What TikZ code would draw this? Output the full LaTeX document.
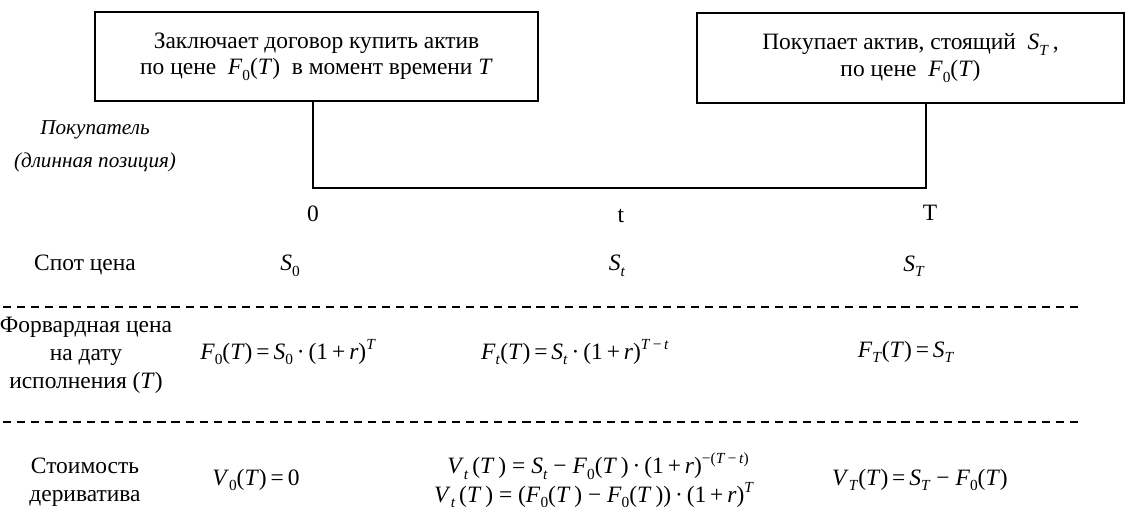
\documentclass[tikz,border=0pt]{standalone}
\usepackage{fontspec}
\setmainfont{Liberation Serif}
\newcommand{\mv}[1]{\textit{#1}}
\newcommand{\lo}[1]{\raisebox{-0.5ex}{\fontsize{8}{8}\selectfont #1}}
\newcommand{\hi}[1]{\raisebox{0.95ex}{\fontsize{8}{8}\selectfont #1}}
\newcommand{\eqs}{\,=\,}
\begin{document}
\begin{tikzpicture}[x=0.52pt,y=-0.52pt,
  every node/.style={font=\fontsize{12.2}{13}\selectfont, inner sep=0pt, align=center},
  box/.style={draw, line width=0.6pt},
  conn/.style={line width=0.8pt},
  sep/.style={dash pattern=on 4.2pt off 3.1pt, line width=0.7pt},
  lab/.style={}]
\useasboundingbox (0,0) rectangle (1125,509);
% boxes
\node[box, minimum width=230.4pt, minimum height=46.3pt] (b1) at (316.5,56.5)
  {Заключает договор купить актив\\[1pt] по цене \ \mv{F}\lo{0}(\mv{T}) \ в момент времени \mv{T}};
\node[box, minimum width=222pt, minimum height=46.8pt] (b2) at (910.5,58)
  {Покупает актив, стоящий \ \mv{S}\lo{\mv{T}}\,,\\[1pt] по цене \ \mv{F}\lo{0}(\mv{T})};
% connector
\coordinate (k0) at (313,188);
\coordinate (kT) at (926,188);
\draw[conn] (b1.south -| k0) -- (k0) -- (kT) -- (b2.south -| kT);
% buyer label
\node[lab, font=\fontsize{11}{13}\selectfont\itshape] (buyer) at (95,146) {Покупатель\\[4pt](длинная позиция)};
% time labels
\node (t0) at (313,214) {0};
\node (tt) at (621,216) {t};
\node (tT) at (930,213) {T};
% spot row
\node (spot) at (85,265) {Спот цена};
\node (s0) at (290,266) {\mv{S}\lo{0}};
\node (st) at (617,266) {\mv{S}\lo{\mv{t}}};
\node (sT) at (914,266) {\mv{S}\lo{\mv{T}}};
\coordinate (d1a) at (3,307);
\coordinate (d1b) at (1078,307);
\draw[sep] (d1a) -- (d1b);
% forward row
\node (fwd) at (86,355) {Форвардная цена\\[1.5pt]на дату\\[1.5pt]исполнения (\mv{T})};
\node (f0) at (288,352) {\mv{F}\lo{0}(\mv{T})\eqs\mv{S}\lo{0}\,·\,(1\,+\,\mv{r})\hi{\mv{T}}};
\node (ft) at (575,352) {\mv{F}\lo{\mv{t}}(\mv{T})\eqs\mv{S}\lo{\mv{t}}\,·\,(1\,+\,\mv{r})\hi{\mv{T}\,−\,\mv{t}}};
\node (fT) at (906,352) {\mv{F}\lo{\mv{T}}(\mv{T})\eqs\mv{S}\lo{\mv{T}}};
\coordinate (d2a) at (3,422);
\coordinate (d2b) at (1078,422);
\draw[sep] (d2a) -- (d2b);
% value row
\node (val) at (85,482) {Стоимость\\[1.5pt]дериватива};
\node (v0) at (256,480) {\mv{V}\lo{0}(\mv{T})\eqs0};
\node (vt1) at (598,466) {\mv{V}\lo{\mv{t}}\,(\mv{T}\,)\ =\ \mv{S}\lo{\mv{t}}\ −\ \mv{F}\lo{0}(\mv{T}\,)\,·\,(1\,+\,\mv{r})\hi{−(\mv{T}\,−\,\mv{t})}};
\node (vt2) at (594,495) {\mv{V}\lo{\mv{t}}\,(\mv{T}\,)\ =\ (\mv{F}\lo{0}(\mv{T}\,)\ −\ \mv{F}\lo{0}(\mv{T}\,))\,·\,(1\,+\,\mv{r})\hi{\mv{T}}};
\node (vT) at (920,480) {\mv{V}\lo{\mv{T}}(\mv{T})\eqs\mv{S}\lo{\mv{T}}\ −\ \mv{F}\lo{0}(\mv{T})};
\end{tikzpicture}
\end{document}
